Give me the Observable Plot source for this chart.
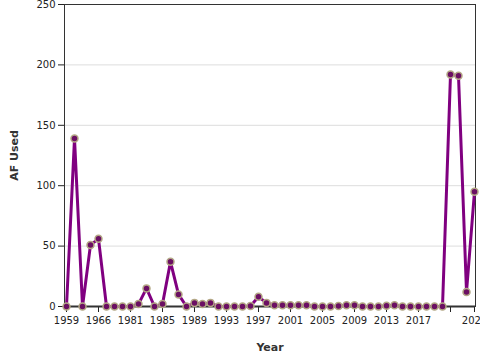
<!DOCTYPE html>
<html>
<head>
<meta charset="utf-8">
<script src="https://cdn.jsdelivr.net/npm/d3@7"></script>
<script src="https://cdn.jsdelivr.net/npm/@observablehq/plot@0.6"></script>
<style>
  html, body { margin: 0; padding: 0; background: #fff; overflow: hidden; }
  #chart svg { font-family: "DejaVu Sans", sans-serif; }
  #chart svg [aria-label$="axis label"] text { font-weight: bold; font-size: 11px; fill: #333; }
</style>
</head>
<body>
<div id="chart"></div>
<script>
const years = [1959, 1960, 1962, 1964, 1966, 1970, 1975, 1978,
  1981, 1982, 1983, 1984, 1985, 1986, 1987, 1988, 1989, 1990, 1991, 1992,
  1993, 1994, 1995, 1996, 1997, 1998, 1999, 2000, 2001, 2002, 2003, 2004,
  2005, 2006, 2007, 2008, 2009, 2010, 2011, 2012, 2013, 2014, 2015, 2016,
  2017, 2018, 2019, 2020, 2021, 2022, 2023, 2024];
const afUsed = [0, 139, 0, 51, 56, 0, 0, 0,
  0, 2, 15, 0, 2, 37, 10, 0, 3, 2, 3, 0,
  0, 0, 0, 0.5, 8, 3, 1, 1, 1, 1, 1, 0,
  0, 0, 0.5, 1, 1, 0, 0, 0, 0.7, 1, 0, 0,
  0, 0, 0, 0, 192, 191, 12, 95];
const xTicks = [1959, 1966, 1981, 1985, 1989, 1993, 1997, 2001, 2005, 2009, 2013, 2017, 2021, 2024];
const hiddenTickLabels = [2021];
const yTicks = [0, 50, 100, 150, 200, 250];
const yGrid = [50, 100, 150, 200];

const data = years.map((y, i) => ({Year: y, AF: afUsed[i]}));

const chart = Plot.plot({
  width: 480,
  height: 360,
  marginLeft: 64,
  marginRight: 5,
  marginTop: 4,
  marginBottom: 54,
  style: {fontFamily: "DejaVu Sans, sans-serif", fontSize: "10px", color: "#222", background: "#fff"},
  x: {type: "point", domain: years, padding: 0},
  y: {domain: [0, 250]},
  marks: [
    Plot.gridY(yGrid, {stroke: "#ddd", strokeOpacity: 1}),
    Plot.frame({stroke: "#333", strokeWidth: 1}),
    Plot.axisY(yTicks, {tickSize: 6, tickPadding: 3, label: "AF Used", labelAnchor: "center", labelArrow: "none", labelOffset: 54}),
    Plot.axisX(xTicks, {tickSize: 6, tickPadding: 4, tickFormat: d => hiddenTickLabels.includes(d) ? "" : String(d), label: "Year", labelAnchor: "center", labelArrow: "none", labelOffset: 44}),
    Plot.ruleY([0], {stroke: "#333", strokeWidth: 2}),
    Plot.line(data, {x: "Year", y: "AF", stroke: "#800080", strokeWidth: 3}),
    Plot.dot(data, {x: "Year", y: "AF", r: 3.5, fill: "#6b0f63", stroke: "#b3a785", strokeWidth: 1.5})
  ]
});
document.getElementById("chart").appendChild(chart);
</script>
</body>
</html>
